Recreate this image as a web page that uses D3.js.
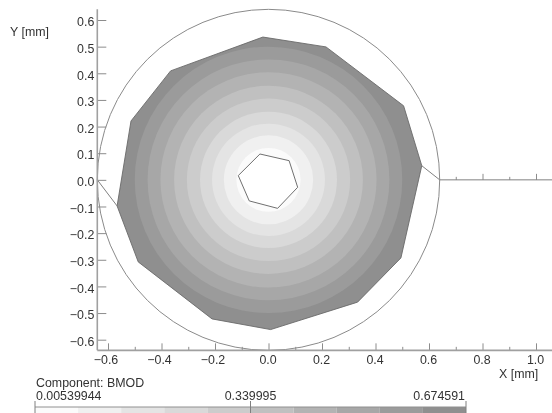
<!DOCTYPE html>
<html>
<head>
<meta charset="utf-8">
<script src="https://cdn.jsdelivr.net/npm/d3@7"></script>
<style>
  html, body { margin: 0; padding: 0; background: #fff; }
  svg { display: block; filter: blur(0.6px); }
  text { font-family: "Liberation Sans", Arial, sans-serif; font-size: 12.4px; fill: #333; }
  .axis .domain { display: none; }
  .axis line { stroke: #8c8c8c; stroke-width: 1; }
  .axis-line { stroke: #a0a0a0; stroke-width: 1.6; fill: none; }
</style>
</head>
<body>
<svg id="chart" width="552" height="413"></svg>
<script>
// outer boundary of the plotted region, mm
const outerX = [-0.021, 0.215, 0.505, 0.573, 0.495, 0.333, 0.008, -0.211, -0.487, -0.566, -0.514, -0.366];
const outerY = [0.536, 0.499, 0.278, 0.053, -0.293, -0.459, -0.562, -0.522, -0.308, -0.098, 0.221, 0.409];
// inner hole
const holeX = [-0.032, 0.077, 0.109, 0.034, -0.072, -0.113];
const holeY = [0.097, 0.072, -0.028, -0.107, -0.079, 0.016];
// contour radii (mm), inside out, and their greys
const bandRadii = [0.120, 0.167, 0.211, 0.256, 0.305, 0.353, 0.404, 0.452, 0.500, 0.700];
const bandColors = ['#fbfbfb', '#f0f0f0', '#e4e4e4', '#d9d9d9', '#cccccc', '#c0c0c0', '#b3b3b3', '#a7a7a7', '#9b9b9b', '#8f8f8f'];
// connector lines from the circle to the boundary
const linkX = [[-0.64, -0.566], [0.64, 0.573]];
const linkY = [[0, -0.098], [0, 0.053]];
const circleR = 0.64;
const xTicks = [-0.6, -0.4, -0.2, 0.0, 0.2, 0.4, 0.6, 0.8, 1.0];
const xMinor = [-0.5, -0.3, -0.1, 0.1, 0.3, 0.5, 0.7, 0.9];
const yTicks = [0.6, 0.5, 0.4, 0.3, 0.2, 0.1, 0.0, -0.1, -0.2, -0.3, -0.4, -0.5, -0.6];
const arm = [0.8, 1.0];
const armMinor = [0.7, 0.9];
const legendLabels = ['0.00539944', '0.339995', '0.674591'];

const svg = d3.select('#chart');
const x = d3.scaleLinear().domain([-0.6, 1.0]).range([108, 536]);
const y = d3.scaleLinear().domain([-0.6, 0.6]).range([339.7, 20]);
const rx = r => x(r) - x(0);
const ry = r => y(0) - y(r);
const line = d3.line().x(d => x(d[0])).y(d => y(d[1]));
const outer = d3.zip(outerX, outerY);
const hole = d3.zip(holeX, holeY);

svg.append('clipPath').attr('id', 'region')
  .append('path').attr('d', line(outer) + 'Z');

// bands, biggest first so the smaller ones paint over
const gBands = svg.append('g').attr('clip-path', 'url(#region)');
gBands.selectAll('ellipse')
  .data(d3.range(bandRadii.length).reverse())
  .join('ellipse')
    .attr('cx', x(0)).attr('cy', y(0))
    .attr('rx', i => rx(bandRadii[i])).attr('ry', i => ry(bandRadii[i]))
    .attr('fill', i => bandColors[i]);

svg.append('path').attr('d', line(hole) + 'Z')
  .attr('fill', '#fff').attr('stroke', '#707070').attr('stroke-width', 1);
svg.append('path').attr('d', line(outer) + 'Z')
  .attr('fill', 'none').attr('stroke', '#6a6a6a').attr('stroke-width', 0.9);

svg.append('ellipse')
  .attr('cx', x(0)).attr('cy', y(0))
  .attr('rx', rx(circleR)).attr('ry', ry(circleR))
  .attr('fill', 'none').attr('stroke', '#8a8a8a').attr('stroke-width', 1);

linkX.forEach((lx, i) => {
  svg.append('path').attr('d', line(d3.zip(lx, linkY[i])))
    .attr('fill', 'none').attr('stroke', '#808080').attr('stroke-width', 1);
});

// axes: ticks point into the plot, labels stay outside
const bottom = y(-circleR);
const left = x(-circleR);
svg.append('g').attr('class', 'axis').attr('transform', `translate(0,${bottom})`)
  .call(d3.axisBottom(x).tickValues(xMinor).tickSize(-3.5).tickFormat(''));
const gx = svg.append('g').attr('class', 'axis').attr('transform', `translate(0,${bottom})`)
  .call(d3.axisBottom(x).tickValues(xTicks).tickSize(-7).tickPadding(5).tickFormat(d3.format('.1f')));
gx.selectAll('text').attr('dx', d => d < 0 ? -2.5 : -1);

const gy = svg.append('g').attr('class', 'axis').attr('transform', `translate(${left},0)`)
  .call(d3.axisLeft(y).tickValues(yTicks).tickSize(-9).tickPadding(3).tickFormat(d3.format('.1f')));
gy.selectAll('text').attr('dy', '0.46em');

// the y=0 arm to the right of the circle
const arm0 = y(0);
svg.append('g').attr('class', 'axis').attr('transform', `translate(0,${arm0})`)
  .call(d3.axisBottom(x).tickValues(armMinor).tickSize(-3).tickFormat(''));
svg.append('g').attr('class', 'axis').attr('transform', `translate(0,${arm0})`)
  .call(d3.axisBottom(x).tickValues(arm).tickSize(-6).tickFormat(''));
svg.append('line').attr('x1', x(circleR)).attr('x2', 552).attr('y1', arm0).attr('y2', arm0)
  .attr('stroke', '#808080').attr('stroke-width', 1);

svg.append('line').attr('class', 'axis-line')
  .attr('x1', left).attr('x2', left).attr('y1', y(circleR)).attr('y2', bottom);
svg.append('line').attr('class', 'axis-line')
  .attr('x1', left).attr('x2', 552).attr('y1', bottom).attr('y2', bottom);

svg.append('text').attr('x', 10).attr('y', 36).text('Y [mm]');
svg.append('text').attr('x', 499).attr('y', 378).text('X [mm]');

// colour bar, cut off by the bottom of the picture
const legend = d3.scaleLinear().domain([0, bandColors.length]).range([35, 466]);
svg.append('text').attr('x', 36).attr('y', 387).text('Component: BMOD');
svg.append('text').attr('x', 36).attr('y', 399.5).text(legendLabels[0]);
svg.append('text').attr('x', 250.5).attr('y', 399.5).attr('text-anchor', 'middle').text(legendLabels[1]);
svg.append('text').attr('x', 465).attr('y', 399.5).attr('text-anchor', 'end').text(legendLabels[2]);

svg.append('g').selectAll('rect')
  .data(bandColors)
  .join('rect')
    .attr('x', (d, i) => legend(i)).attr('width', legend(1) - legend(0))
    .attr('y', 407).attr('height', 6)
    .attr('fill', d => d);
svg.append('line').attr('x1', legend(0)).attr('x2', legend(10)).attr('y1', 407).attr('y2', 407)
  .attr('stroke', '#909090').attr('stroke-width', 1);
svg.append('g').selectAll('line')
  .data([0, 5, 10])
  .join('line')
    .attr('x1', d => legend(d)).attr('x2', d => legend(d))
    .attr('y1', 401).attr('y2', 413)
    .attr('stroke', '#808080').attr('stroke-width', 1);
</script>
</body>
</html>
